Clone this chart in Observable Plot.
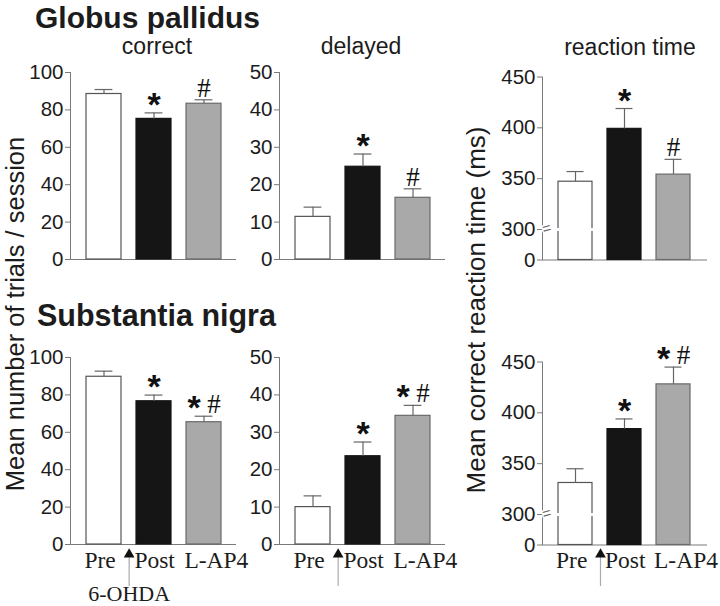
<!DOCTYPE html>
<html><head><meta charset="utf-8">
<script src="https://cdn.jsdelivr.net/npm/d3@7"></script>
<script src="https://cdn.jsdelivr.net/npm/@observablehq/plot@0.6"></script>
<style>
html,body{margin:0;padding:0;background:#fff;}
#wrap{position:relative;width:720px;height:606px;overflow:hidden;font-family:"Liberation Sans",Arial,sans-serif;}
#wrap svg.pan{position:absolute;overflow:visible;}
.pan g[aria-label="y-axis tick"]{stroke:#7a7a7a;}
.pan g[aria-label="y-axis tick label"]{fill:#1c1c1c;}
#ann{position:absolute;left:0;top:0;}
</style></head><body><div id="wrap"></div>
<script>
// ---------- data ----------
const groups = ["Pre", "Post", "L-AP4"];
const gpCorrect = [88.5, 75.2, 83.3];
const gpCorrectErr = [2.4, 3.2, 2.1];
const gpDelayed = [11.4, 24.8, 16.5];
const gpDelayedErr = [2.6, 3.4, 2.4];
const gpRT = [347, 399, 354];
const gpRTErr = [10, 20, 15];
const snCorrect = [89.7, 76.6, 65.4];
const snCorrectErr = [3.0, 3.3, 3.2];
const snDelayed = [10.0, 23.6, 34.4];
const snDelayedErr = [3.0, 3.8, 2.8];
const snRT = [331, 384, 428];
const snRTErr = [14, 10, 17];
const gpStar = [false, true, false];
const gpHash = [false, false, true];
const snStar = [false, true, true];
const snHash = [false, false, true];
const ticksCorrect = [0, 20, 40, 60, 80, 100];
const ticksDelayed = [0, 10, 20, 30, 40, 50];
const ticksRT = [0, 300, 350, 400, 450];
const rtDomain = [0, 300, 450];

// ---------- style ----------
const serif = "'Liberation Serif','Times New Roman',serif";
const sans = "'Liberation Sans',Arial,sans-serif";
const fillOf = {"Pre": "#ffffff", "Post": "#151515", "L-AP4": "#a9a9a9"};
const strokeOf = {"Pre": "#555555", "Post": "#151515", "L-AP4": "#6a6a6a"};
const ink = "#1c1c1c";
const errInk = "#666666";

const wrap = document.getElementById("wrap");

// annotation text layer
const ann = d3.select(wrap).append("svg").attr("id", "ann").attr("width", 720).attr("height", 606)
  .style("font-family", sans).attr("fill", ink);
ann.append("text").attr("x", 35).attr("y", 28).attr("font-size", 30).attr("font-weight", "bold").text("Globus pallidus");
ann.append("text").attr("x", 37).attr("y", 326).attr("font-size", 30.5).attr("font-weight", "bold").text("Substantia nigra");
[["correct", 157, 54], ["delayed", 361, 54], ["reaction time", 630, 55]].forEach(([t, x, y]) =>
  ann.append("text").attr("x", x).attr("y", y).attr("font-size", 23).attr("text-anchor", "middle").text(t));
ann.append("text").attr("transform", "translate(24,314) rotate(-90)").attr("font-size", 25.5)
  .attr("text-anchor", "middle").text("Mean number of trials / session");
ann.append("text").attr("transform", "translate(485,310) rotate(-90)").attr("font-size", 26)
  .attr("text-anchor", "middle").text("Mean correct reaction time (ms)");

function panel(o) {
  const data = groups.map((g, i) => ({g, v: o.vals[i], e: o.errs[i], star: o.star[i], hash: o.hash[i]}));
  const xOpts = {type: "band", domain: groups, range: [o.mL, o.width - o.mR], padding: 0.3};
  const xs = Plot.scale({x: xOpts});
  const half = xs.step / 2;
  const bw = xs.bandwidth;
  const capInset = (bw - 18) / 2;
  const top = d => d.v + d.e;
  const yOpts = o.broken
    ? {type: "linear", domain: rtDomain, range: o.range}
    : {type: "linear", domain: [0, o.max]};
  const marks = [
    Plot.ruleY([0], {stroke: "#7a7a7a", strokeWidth: 1.2}),
    Plot.barY(data, {x: "g", y: "v", fill: d => fillOf[d.g], stroke: d => strokeOf[d.g], strokeWidth: 1.2}),
    Plot.ruleX(data, {x: "g", y1: "v", y2: top, stroke: errInk, strokeWidth: 1.2}),
    Plot.tickY(data, {x: "g", y: top, stroke: errInk, strokeWidth: 1.2, insetLeft: capInset, insetRight: capInset}),
    // significance marks
    Plot.text(data.filter(d => d.star && !d.hash), {x: "g", y: top, text: () => "*", fontFamily: sans, fontWeight: "bold", fontSize: 34, lineAnchor: "bottom", dy: 3, fill: "#111"}),
    Plot.text(data.filter(d => d.star && d.hash), {x: "g", y: top, text: () => "*", fontFamily: sans, fontWeight: "bold", fontSize: 34, lineAnchor: "bottom", dy: 3, dx: -10, fill: "#111"}),
    Plot.text(data.filter(d => d.hash && !d.star), {x: "g", y: top, text: () => "#", fontFamily: serif, fontSize: 27, lineAnchor: "bottom", dy: -3, fill: "#111"}),
    Plot.text(data.filter(d => d.hash && d.star), {x: "g", y: top, text: () => "#", fontFamily: serif, fontSize: 27, lineAnchor: "bottom", dy: -3, dx: 10, fill: "#111"})
  ];
  if (o.broken) {
    marks.push(
      Plot.tickY([300], {x: () => "Pre", y: d => d, stroke: "white", strokeWidth: 3, insetLeft: -3, insetRight: -3}),
      Plot.text([300], {y: d => d, frameAnchor: "left", text: () => "=", fontFamily: sans, fontSize: 15, fill: "#666", stroke: "white", strokeWidth: 3, rotate: -15})
    );
  }
  if (o.bottom) {
    marks.push(
      Plot.text(data, {x: "g", text: "g", frameAnchor: "bottom", textAnchor: "start", dx: -bw / 2 - 2, dy: 23, lineAnchor: "bottom", fontFamily: serif, fontSize: 23.5, fill: ink}),
      Plot.vector([0], {x: () => "Pre", dx: half, frameAnchor: "bottom", dy: 41, length: 28, rotate: 0, anchor: "start", r: 0, stroke: "#aaaaaa", strokeWidth: 1.2}),
      Plot.dot([0], {x: () => "Pre", dx: half, frameAnchor: "bottom", dy: 10, symbol: "triangle", r: 4, fill: "#111", stroke: "none"})
    );
    if (o.ohda) {
      marks.push(Plot.text(["6-OHDA"], {x: () => "Pre", dx: half, frameAnchor: "bottom", dy: 56, lineAnchor: "bottom", text: d => d, fontFamily: serif, fontSize: 22, fill: ink}));
    }
  }
  const svg = Plot.plot({
    width: o.width, height: o.height,
    marginLeft: o.mL, marginRight: o.mR, marginTop: o.mT, marginBottom: o.mB,
    x: {...xOpts, axis: null},
    y: {...yOpts, ticks: o.ticks, tickSize: 5, tickPadding: 2, label: null, line: true, tickFormat: d => String(d)},
    style: {background: "transparent", overflow: "visible", fontFamily: sans, fontSize: "20.5px", color: "#7a7a7a"},
    marks
  });
  svg.classList.add("pan");
  svg.style.left = o.left + "px";
  svg.style.top = o.topPx + "px";
  wrap.appendChild(svg);
}

const rows = [
  {topPx: 0, height: 280, mB: 21, bottom: false,
   sets: [[gpCorrect, gpCorrectErr], [gpDelayed, gpDelayedErr], [gpRT, gpRTErr]], star: gpStar, hash: gpHash},
  {topPx: 285, height: 321, mB: 62, bottom: true,
   sets: [[snCorrect, snCorrectErr], [snDelayed, snDelayedErr], [snRT, snRTErr]], star: snStar, hash: snHash}
];
rows.forEach(r => {
  const base = r.height - r.mB;
  panel({left: 0, topPx: r.topPx, width: 240, height: r.height, mL: 70, mR: 4, mT: 72, mB: r.mB,
    vals: r.sets[0][0], errs: r.sets[0][1], star: r.star, hash: r.hash, max: 100, ticks: ticksCorrect,
    bottom: r.bottom, ohda: true});
  panel({left: 240, topPx: r.topPx, width: 210, height: r.height, mL: 39, mR: 5, mT: 72, mB: r.mB,
    vals: r.sets[1][0], errs: r.sets[1][1], star: r.star, hash: r.hash, max: 50, ticks: ticksDelayed,
    bottom: r.bottom, ohda: false});
  panel({left: 480, topPx: r.topPx, width: 240, height: r.height, mL: 62, mR: 13, mT: 76.5, mB: r.mB,
    vals: r.sets[2][0], errs: r.sets[2][1], star: r.star, hash: r.hash, ticks: ticksRT,
    broken: true, range: [base + 0.5, base - 30, 76.5],
    bottom: r.bottom, ohda: false});
});
</script></body></html>
